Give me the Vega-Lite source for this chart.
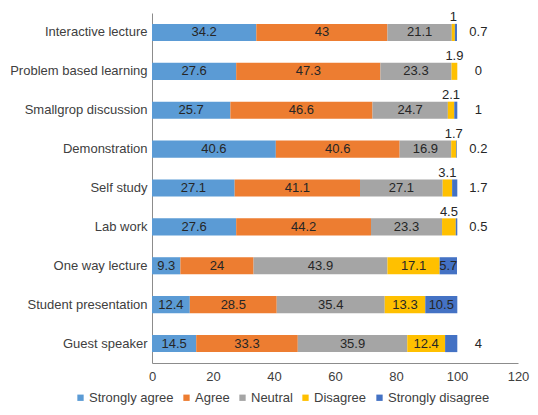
{
  "$schema": "https://vega.github.io/schema/vega-lite/v6.json",
  "width": 366,
  "height": 350,
  "autosize": {"type": "none"},
  "padding": {"left": 152, "top": 13, "right": 20, "bottom": 52},
  "background": "white",
  "config": {
    "view": {"stroke": null},
    "font": "Liberation Sans",
    "axis": {"labelFont": "Liberation Sans", "labelFontSize": 13, "labelColor": "#404040", "domainColor": "#8c8c8c", "ticks": false, "grid": false, "title": null},
    "legend": {"labelFont": "Liberation Sans", "labelFontSize": 13, "labelColor": "#404040"}
  },
  "data": {
    "values": [
      {"method": "Interactive lecture", "Strongly agree": 34.2, "Agree": 43, "Neutral": 21.1, "Disagree": 1, "Strongly disagree": 0.7},
      {"method": "Problem based learning", "Strongly agree": 27.6, "Agree": 47.3, "Neutral": 23.3, "Disagree": 1.9, "Strongly disagree": 0},
      {"method": "Smallgrop discussion", "Strongly agree": 25.7, "Agree": 46.6, "Neutral": 24.7, "Disagree": 2.1, "Strongly disagree": 1},
      {"method": "Demonstration", "Strongly agree": 40.6, "Agree": 40.6, "Neutral": 16.9, "Disagree": 1.7, "Strongly disagree": 0.2},
      {"method": "Self study", "Strongly agree": 27.1, "Agree": 41.1, "Neutral": 27.1, "Disagree": 3.1, "Strongly disagree": 1.7},
      {"method": "Lab work", "Strongly agree": 27.6, "Agree": 44.2, "Neutral": 23.3, "Disagree": 4.5, "Strongly disagree": 0.5},
      {"method": "One way lecture", "Strongly agree": 9.3, "Agree": 24, "Neutral": 43.9, "Disagree": 17.1, "Strongly disagree": 5.7},
      {"method": "Student presentation", "Strongly agree": 12.4, "Agree": 28.5, "Neutral": 35.4, "Disagree": 13.3, "Strongly disagree": 10.5},
      {"method": "Guest speaker", "Strongly agree": 14.5, "Agree": 33.3, "Neutral": 35.9, "Disagree": 12.4, "Strongly disagree": 4}
    ]
  },
  "transform": [
    {"fold": ["Strongly agree", "Agree", "Neutral", "Disagree", "Strongly disagree"], "as": ["response", "value"]},
    {"window": [{"op": "sum", "field": "value", "as": "x1"}], "groupby": ["method"], "frame": [null, 0]},
    {"calculate": "datum.x1 - datum.value", "as": "x0"},
    {"calculate": "datum.x1 - datum.value / 2", "as": "xm"}
  ],
  "encoding": {
    "y": {
      "field": "method",
      "type": "nominal",
      "sort": ["Interactive lecture", "Problem based learning", "Smallgrop discussion", "Demonstration", "Self study", "Lab work", "One way lecture", "Student presentation", "Guest speaker"],
      "scale": {"paddingInner": 0.56, "paddingOuter": 0.28},
      "axis": {"labelPadding": 5, "domain": true}
    }
  },
  "layer": [
    {
      "mark": {"type": "bar"},
      "encoding": {
        "x": {"field": "x0", "type": "quantitative", "scale": {"domain": [0, 120], "nice": false}, "axis": {"values": [0, 20, 40, 60, 80, 100, 120], "labelPadding": 7, "labelFlush": false}},
        "x2": {"field": "x1"},
        "color": {
          "field": "response",
          "type": "nominal",
          "scale": {"domain": ["Strongly agree", "Agree", "Neutral", "Disagree", "Strongly disagree"], "range": ["#5B9BD5", "#ED7D31", "#A5A5A5", "#FFC000", "#4472C4"]},
          "legend": {"orient": "none", "direction": "horizontal", "legendX": -78, "legendY": 378, "title": null, "symbolType": "square", "symbolSize": 40, "labelOffset": 2, "columnPadding": 6, "padding": 0}
        }
      }
    },
    {
      "transform": [{"filter": "datum.value >= 5"}],
      "mark": {"type": "text", "fontSize": 13, "color": "#262626"},
      "encoding": {
        "x": {"field": "xm", "type": "quantitative"},
        "text": {"field": "value", "type": "quantitative"}
      }
    },
    {
      "transform": [{"filter": "datum.response == 'Disagree' && datum.value < 5"}],
      "mark": {"type": "text", "fontSize": 13, "color": "#262626", "dy": -15},
      "encoding": {
        "x": {"field": "xm", "type": "quantitative"},
        "text": {"field": "value", "type": "quantitative"}
      }
    },
    {
      "transform": [{"filter": "datum.response == 'Strongly disagree' && datum.value < 5"}],
      "mark": {"type": "text", "fontSize": 13, "color": "#262626"},
      "encoding": {
        "x": {"datum": 107, "type": "quantitative"},
        "text": {"field": "value", "type": "quantitative"}
      }
    }
  ]
}
